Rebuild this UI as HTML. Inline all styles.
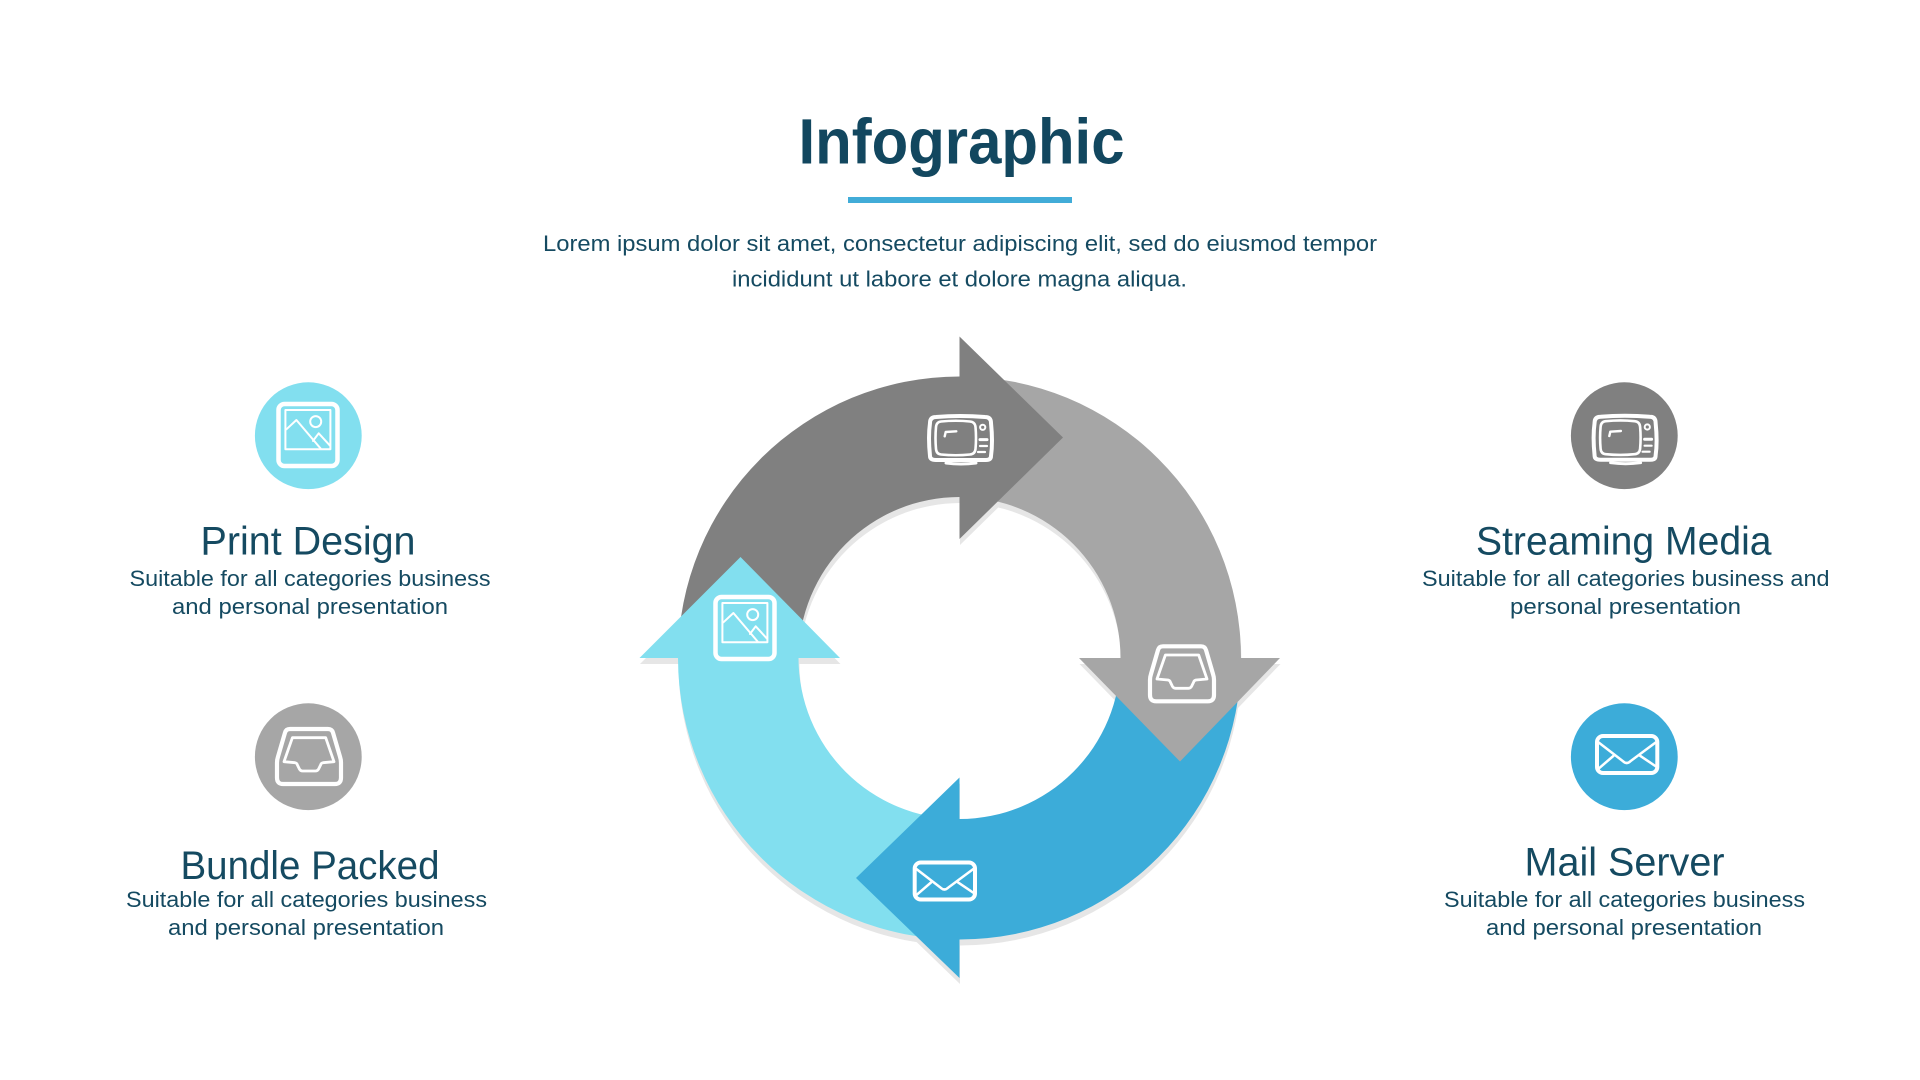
<!DOCTYPE html>
<html lang="en">
<head>
<meta charset="utf-8">
<title>Infographic</title>
<style>
html,body{margin:0;padding:0;background:#fff;width:1920px;height:1080px;overflow:hidden}
svg{display:block}
text{font-family:"Liberation Sans",sans-serif;fill:#154a61}
.h{font-size:40px}
.d{font-size:22px}
.p{font-size:22.5px}
.ic{fill:none;stroke:#fff;stroke-linejoin:round;stroke-linecap:round}
</style>
</head>
<body>
<svg width="1920" height="1080" viewBox="0 0 1920 1080" xmlns="http://www.w3.org/2000/svg">
<defs>
  <g id="icoImage" class="ic">
    <rect x="-29.5" y="-31" width="59" height="62" rx="6" stroke-width="4.5"/>
    <rect x="-22.6" y="-25" width="45" height="39.3" stroke-width="2"/>
    <path d="M-21.6 -5.7L-11.6 -15L12.7 13.6M5 5.9L10.7 -1.7L21.7 10.3" stroke-width="2"/>
    <circle cx="7.7" cy="-13.4" r="5.5" stroke-width="2"/>
  </g>
  <g id="icoTv" class="ic">
    <path d="M-24 -20Q0 -22 25 -20Q31 -20 31 -14Q33 5 31 19Q31 23 26 23L-24 23Q-30 23 -30 19Q-32 0 -30 -14Q-30 -20 -24 -20Z" stroke-width="4"/>
    <path d="M-14 26Q1 28 16 26" stroke-width="3"/>
    <path d="M-19 -15.5Q-4 -17 10 -15.5Q15 -15 15.5 -10Q16.5 1 15.5 12Q15 17 10 17.5Q-4 19 -19 17.5Q-23.5 17 -24 12Q-25 1 -24 -10Q-23.5 -15 -19 -15.5Z" stroke-width="2.6"/>
    <path d="M-15.3 -0.7L-14.3 -5L-3.7 -5.7" stroke-width="2.4"/>
    <circle cx="22.7" cy="-9.7" r="2.6" stroke-width="2"/>
    <path d="M20 2.6H27" stroke-width="3"/>
    <path d="M20 9H27" stroke-width="2.2"/>
    <path d="M18 15H25" stroke-width="2.2"/>
  </g>
  <g id="icoTray" class="ic">
    <path d="M-19 -27.7L19 -27.7Q23 -27.7 24 -24L31 0Q32 3 32 6L32 21Q32 27.3 26 27.3L-26 27.3Q-32 27.3 -32 21L-32 6Q-32 3 -31 0L-24 -24Q-23 -27.7 -19 -27.7Z" stroke-width="4.2"/>
    <path d="M-16.6 -19L16.7 -19L25 5L14 6Q12 6.5 11.7 8L9.5 12.5Q8.5 14.3 6.5 14.3L-6.5 14.3Q-8.5 14.3 -9.5 12.5L-11.7 8Q-12 6.5 -14 6L-25 5Z" stroke-width="2.8"/>
  </g>
  <g id="icoMail" class="ic">
    <rect x="-27.3" y="-20.7" width="60.3" height="37" rx="6" stroke-width="4"/>
    <path d="M-25.3 -14L-1.6 4.3Q2.4 8.3 6.4 4.3L31 -14" stroke-width="2.5"/>
    <path d="M-25.3 11.6L-11 -0.7M15.7 -1L31 9.3" stroke-width="2.5"/>
  </g>
</defs>

<!-- Title -->
<text x="798.5" y="163.3" font-size="64" font-weight="700" textLength="326" lengthAdjust="spacingAndGlyphs" style="fill:#12475f">Infographic</text>
<rect x="848" y="197" width="224" height="6" fill="#41acd8"/>
<text class="p" x="543" y="251" textLength="834" lengthAdjust="spacingAndGlyphs">Lorem ipsum  dolor sit amet, consectetur adipiscing  elit, sed do eiusmod tempor</text>
<text class="p" x="732" y="286.7" textLength="455" lengthAdjust="spacingAndGlyphs">incididunt  ut labore et dolore magna aliqua.</text>

<!-- Shadow -->
<g fill="#e6e6e6" transform="translate(0.5 6)">
  <path fill-rule="evenodd" d="M678 658A281.5 281.5 0 0 1 1241 658A281.5 281.5 0 0 1 678 658ZM799 658A161 161 0 0 0 1121 658A161 161 0 0 0 799 658Z"/>
  <path d="M959.5 336.5L1063 437.5L959.5 539Z"/>
  <path d="M1079 658H1280L1180 761.5Z"/>
  <path d="M959.5 777.5V978L856 878Z"/>
  <path d="M639.5 658H840L740.5 557Z"/>
</g>

<!-- Ring quarters -->
<path d="M959.5 376.5A281.5 281.5 0 0 1 1241 658H1120.5A161 161 0 0 0 959.5 497Z" fill="#a6a6a6"/>
<path d="M1241 658A281.5 281.5 0 0 1 959.5 939.5V819A161 161 0 0 0 1120.5 658Z" fill="#3cacd9"/>
<path d="M959.5 939.5A281.5 281.5 0 0 1 678 658H798.5A161 161 0 0 0 959.5 819Z" fill="#82dfef"/>
<path d="M678 658A281.5 281.5 0 0 1 959.5 376.5V497A161 161 0 0 0 798.5 658Z" fill="#808080"/>

<!-- Arrow heads -->
<path d="M959.5 336.5L1063 437.5L959.5 539Z" fill="#808080"/>
<path d="M1079 658H1280L1180 761.5Z" fill="#a6a6a6"/>
<path d="M959.5 777.5V978L856 878Z" fill="#3cacd9"/>
<path d="M639.5 658H840L740.5 557Z" fill="#82dfef"/>

<!-- Ring icons -->
<use href="#icoTv" transform="translate(960 437)"/>
<use href="#icoTray" transform="translate(1182 674)"/>
<use href="#icoMail" transform="translate(942 883.2)"/>
<use href="#icoImage" transform="translate(745 628)"/>

<!-- Print Design -->
<circle cx="308.3" cy="435.7" r="53.4" fill="#82dfef"/>
<use href="#icoImage" transform="translate(308 435)"/>
<text class="h" x="200.5" y="554.5" textLength="215" lengthAdjust="spacingAndGlyphs">Print Design</text>
<text class="d" x="129.5" y="586" textLength="361" lengthAdjust="spacingAndGlyphs">Suitable for all categories business</text>
<text class="d" x="172" y="614" textLength="276" lengthAdjust="spacingAndGlyphs">and personal presentation</text>

<!-- Bundle Packed -->
<circle cx="308.3" cy="756.7" r="53.4" fill="#a6a6a6"/>
<use href="#icoTray" transform="translate(309 756.7)"/>
<text class="h" x="180.5" y="879" textLength="259" lengthAdjust="spacingAndGlyphs">Bundle Packed</text>
<text class="d" x="126" y="907" textLength="361" lengthAdjust="spacingAndGlyphs">Suitable for all categories business</text>
<text class="d" x="168" y="935" textLength="276" lengthAdjust="spacingAndGlyphs">and personal presentation</text>

<!-- Streaming Media -->
<circle cx="1624.3" cy="435.7" r="53.4" fill="#808080"/>
<use href="#icoTv" transform="translate(1624.6 436.7)"/>
<text class="h" x="1476" y="554.5" textLength="295.5" lengthAdjust="spacingAndGlyphs">Streaming Media</text>
<text class="d" x="1422" y="586" textLength="407.5" lengthAdjust="spacingAndGlyphs">Suitable for all categories business and</text>
<text class="d" x="1510" y="614" textLength="231" lengthAdjust="spacingAndGlyphs">personal presentation</text>

<!-- Mail Server -->
<circle cx="1624.3" cy="756.7" r="53.4" fill="#3cacd9"/>
<use href="#icoMail" transform="translate(1624.3 756.7)"/>
<text class="h" x="1524.5" y="875.5" textLength="200" lengthAdjust="spacingAndGlyphs">Mail Server</text>
<text class="d" x="1444" y="907" textLength="361" lengthAdjust="spacingAndGlyphs">Suitable for all categories business</text>
<text class="d" x="1486" y="935" textLength="276" lengthAdjust="spacingAndGlyphs">and personal presentation</text>
</svg>
</body>
</html>
